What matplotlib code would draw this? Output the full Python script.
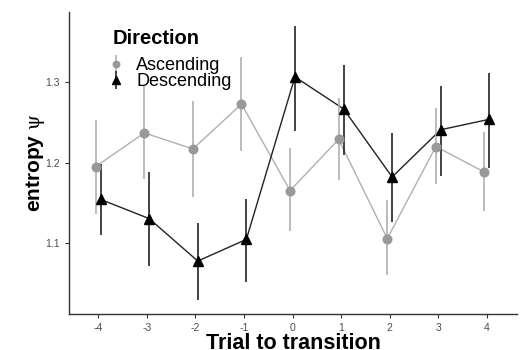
import numpy as np
import matplotlib
matplotlib.use("Agg")
import matplotlib.pyplot as plt

plt.rcParams["font.family"] = ["Liberation Sans", "DejaVu Sans"]
plt.rcParams["mathtext.fontset"] = "stix"

# -----------------------------
# Data
# -----------------------------

trials = [-4, -3, -2, -1, 0, 1, 2, 3, 4]

asc_mean = [1.195, 1.237, 1.217, 1.273, 1.165, 1.229, 1.105, 1.220, 1.188]
asc_lo = [1.136, 1.179, 1.157, 1.215, 1.114, 1.178, 1.060, 1.173, 1.139]
asc_hi = [1.253, 1.295, 1.277, 1.332, 1.218, 1.281, 1.153, 1.268, 1.238]

desc_mean = [1.154, 1.130, 1.077, 1.104, 1.307, 1.267, 1.182, 1.241, 1.254]
desc_lo = [1.109, 1.071, 1.028, 1.051, 1.240, 1.210, 1.126, 1.183, 1.193]
desc_hi = [1.198, 1.188, 1.124, 1.154, 1.371, 1.322, 1.237, 1.295, 1.312]

# -----------------------------
# Plot
# -----------------------------

W, H = 523, 350
fig = plt.figure(figsize=(W / 100, H / 100), dpi=100)
ax = fig.add_axes([69 / W, 1 - 314.3 / H, (517 - 69) / W, (314.3 - 12) / H])

x = np.array(trials, dtype=float)
dodge = 0.05

series = [
    ("Ascending", x - dodge, asc_mean, asc_lo, asc_hi, "o", "#999999", "#b0b0b0", 6.2),
    ("Descending", x + dodge, desc_mean, desc_lo, desc_hi, "^", "black", "#222222", 7.5),
]

for label, xs, m, lo, hi, mk, mcol, lcol, ms in series:
    m = np.array(m)
    err = [m - np.array(lo), np.array(hi) - m]
    ax.plot(xs, m, color=lcol, lw=1.0, zorder=2)
    ax.errorbar(xs, m, yerr=err, fmt=mk, color=mcol, ecolor=lcol,
                elinewidth=1.2, capsize=0, markersize=ms, label=label, zorder=3)

ax.set_xlim(-4.6, 4.62)
ax.set_ylim(1.0105, 1.388)
ax.set_xticks(trials)
ax.set_xticklabels([str(t) for t in trials])
ax.set_yticks([1.1, 1.2, 1.3])

for side in ["top", "right"]:
    ax.spines[side].set_visible(False)
for side in ["left", "bottom"]:
    ax.spines[side].set_color("#333333")
    ax.spines[side].set_linewidth(1.0)

ax.tick_params(axis="both", labelsize=7.5, colors="#333333", length=3, width=0.8)
for lab in ax.get_xticklabels() + ax.get_yticklabels():
    lab.set_color("#4d4d4d")

ax.set_xlabel("Trial to transition", fontsize=15.5, fontweight="bold", labelpad=0)
ax.set_ylabel(r"entropy $\mathrm{\psi}$", fontsize=15, fontweight="bold", labelpad=-1)

# legend: title as separate text, entries below
fig.text(113 / W, 1 - 43.5 / H, "Direction", fontsize=14.5, fontweight="bold",
         ha="left", va="baseline")
leg = fig.legend(loc="upper left", bbox_to_anchor=(109 / W, 1 - 57 / H), frameon=False,
                 fontsize=13, handlelength=0.8, handletextpad=0.7,
                 labelspacing=-0.05, borderaxespad=0, markerscale=0.75, borderpad=0)

plt.savefig("out.png", dpi=100)
